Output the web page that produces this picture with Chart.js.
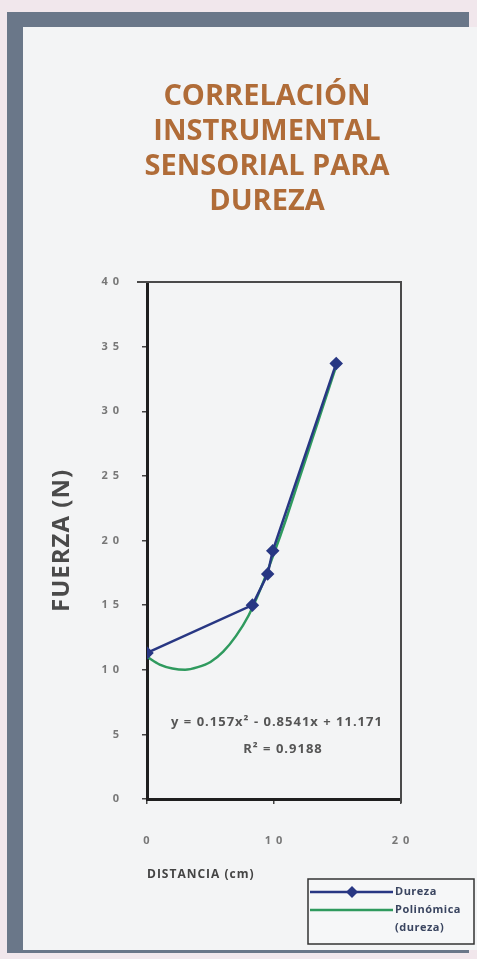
<!DOCTYPE html>
<html>
<head>
<meta charset="utf-8">
<script src="https://cdn.jsdelivr.net/npm/chart.js@4.4.1/dist/chart.umd.min.js"></script>
<style>
  html, body { margin: 0; padding: 0; }
  body { width: 477px; height: 959px; background: #f1e7ec; position: relative; overflow: hidden; }
  .frame { position: absolute; left: 7px; top: 12px; width: 462px; height: 941px; background: #6a7789; }
  .panel { position: absolute; left: 23px; top: 27px; width: 454px; height: 923px; background: #f3f4f5; }
  #chart { position: absolute; left: 0; top: 0; }
</style>
</head>
<body>
<div class="frame"></div>
<div class="panel"></div>
<canvas id="chart" width="477" height="959"></canvas>
<script>
// chart data
const titleLines = ["CORRELACIÓN", "INSTRUMENTAL", "SENSORIAL PARA", "DUREZA"];
const durezaX = [0, 8.3, 9.5, 9.9, 14.9];
const durezaY = [11.3, 15.0, 17.4, 19.2, 33.7];
const polyX = [0, 1, 2, 3, 4, 5, 6, 7, 8, 9, 10, 11, 12, 13, 14, 15];
const polyY = [11.0, 10.4, 10.1, 10.0, 10.2, 10.6, 11.4, 12.6, 14.2, 16.4, 19.0, 21.8, 24.8, 27.8, 30.8, 33.8];
const yTicks = [0, 5, 10, 15, 20, 25, 30, 35, 40];
const xTicks = [0, 10, 20];
const equationLines = ["y = 0.157x² - 0.8541x + 11.171", "R² = 0.9188"];

const navy = "#283783";
const green = "#2f9a5e";
const font = "'Open Sans', sans-serif";

function toPoints(xs, ys) {
  return xs.map((x, i) => ({ x: x, y: ys[i] }));
}

// digits come out spaced in the original ("4 0")
function spaced(v) {
  return String(v).split("").join(" ");
}

const decorPlugin = {
  id: "decor",
  beforeDraw(chart) {
    // the scan's axis text is loosely spaced
    chart.ctx.letterSpacing = "1px";
  },
  beforeDatasetsDraw(chart) {
    const { ctx, chartArea } = chart;
    ctx.save();
    ctx.strokeStyle = "#4a4a4a";
    ctx.lineWidth = 2;
    ctx.beginPath();
    ctx.moveTo(chartArea.left - 10, chartArea.top);
    ctx.lineTo(chartArea.right, chartArea.top);
    ctx.lineTo(chartArea.right, chartArea.bottom + 4);
    ctx.stroke();
    ctx.restore();
  },
  afterDraw(chart) {
    const { ctx } = chart;
    ctx.save();

    // title
    ctx.letterSpacing = "0px";
    ctx.fillStyle = "#b06c38";
    ctx.font = "bold 29px " + font;
    ctx.textAlign = "center";
    ctx.textBaseline = "middle";
    titleLines.forEach((line, i) => {
      ctx.fillText(line, 267, 97 + i * 35);
    });

    // trendline equation
    ctx.letterSpacing = "1px";
    ctx.fillStyle = "#555";
    ctx.font = "bold 13px " + font;
    ctx.fillText(equationLines[0], 277, 722);
    ctx.fillText(equationLines[1], 283, 749);

    // legend box
    const bx = 308, by = 879, bw = 166, bh = 65;
    ctx.fillStyle = "#f6f7f8";
    ctx.fillRect(bx, by, bw, bh);
    ctx.strokeStyle = "#333";
    ctx.lineWidth = 1.5;
    ctx.strokeRect(bx, by, bw, bh);

    ctx.textAlign = "left";
    ctx.letterSpacing = "0.5px";
    ctx.font = "bold 11px " + font;
    let y = by + 13;
    chart.data.datasets.forEach((ds) => {
      ctx.strokeStyle = ds.borderColor;
      ctx.lineWidth = 2.5;
      ctx.beginPath();
      ctx.moveTo(bx + 2, y);
      ctx.lineTo(bx + 85, y);
      ctx.stroke();
      if (ds.pointRadius > 0) {
        ctx.fillStyle = ds.borderColor;
        ctx.beginPath();
        ctx.moveTo(bx + 44, y - 6);
        ctx.lineTo(bx + 50, y);
        ctx.lineTo(bx + 44, y + 6);
        ctx.lineTo(bx + 38, y);
        ctx.closePath();
        ctx.fill();
      }
      ctx.fillStyle = "#3a4560";
      const parts = ds.label.split(" (");
      parts.forEach((p, j) => {
        ctx.fillText(j > 0 ? "(" + p : p, bx + 87, y + j * 18);
      });
      y += 18 * parts.length;
    });
    ctx.restore();
  }
};

const ctx = document.getElementById("chart").getContext("2d");
const chart = new Chart(ctx, {
  type: "line",
  data: {
    datasets: [
      {
        label: "Dureza",
        data: toPoints(durezaX, durezaY),
        borderColor: navy,
        backgroundColor: navy,
        borderWidth: 2.5,
        pointStyle: "rectRot",
        pointRadius: 5,
        tension: 0,
        order: 0,
      },
      {
        label: "Polinómica (dureza)",
        data: toPoints(polyX, polyY),
        borderColor: green,
        backgroundColor: green,
        borderWidth: 2.5,
        pointRadius: 0,
        cubicInterpolationMode: "monotone",
        order: 1,
      },
    ],
  },
  options: {
    responsive: false,
    animation: false,
    layout: { padding: { left: 40, right: 76, top: 282, bottom: 60 } },
    plugins: {
      legend: { display: false },
      title: { display: false },
      tooltip: { enabled: false },
    },
    scales: {
      x: {
        type: "linear",
        min: 0,
        max: 20,
        afterBuildTicks: (s) => { s.ticks = xTicks.map((v) => ({ value: v })); },
        afterFit: (s) => { s.height = 100; },
        grid: { drawOnChartArea: false, tickLength: 5, color: "#444", lineWidth: 1.5 },
        border: { color: "#1e1e1e", width: 3 },
        ticks: { padding: 30, color: "#777", font: { family: font, size: 11, weight: "bold" }, callback: spaced },
        title: {
          display: true,
          text: "DISTANCIA (cm)",
          align: "start",
          color: "#444",
          font: { family: font, size: 12, weight: "bold" },
          padding: { top: 0, bottom: 17 },
        },
      },
      y: {
        min: 0,
        max: 40,
        afterBuildTicks: (s) => { s.ticks = yTicks.map((v) => ({ value: v })); },
        afterFit: (s) => { s.width = 107; },
        grid: { drawOnChartArea: false, tickLength: 5, color: "#444", lineWidth: 1.5 },
        border: { color: "#1e1e1e", width: 3 },
        ticks: { padding: 22, color: "#777", font: { family: font, size: 11, weight: "bold" }, callback: spaced },
        title: {
          display: true,
          text: "FUERZA (N)",
          color: "#4a4a4a",
          font: { family: font, size: 24, weight: "bold" },
          padding: { top: 8, bottom: 0 },
        },
      },
    },
  },
  plugins: [decorPlugin],
});
</script>
</body>
</html>
